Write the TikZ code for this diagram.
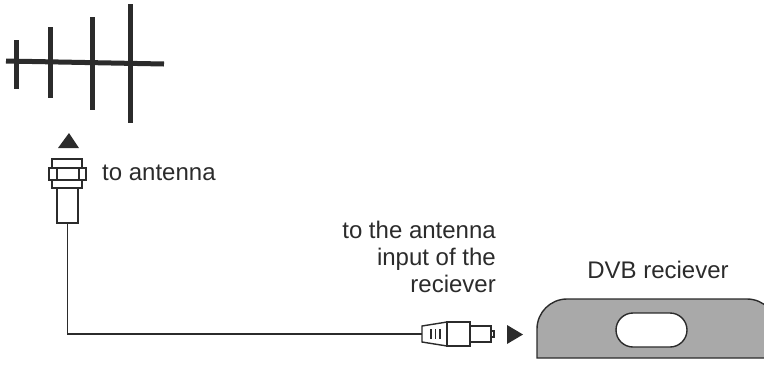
\documentclass[tikz,border=0pt]{standalone}
\usepackage{fontspec}
\setmainfont{Liberation Sans}
\usetikzlibrary{positioning,calc}
\definecolor{ink}{HTML}{2B2B2B}
\definecolor{case}{HTML}{A9A9A9}
\tikzset{
    rod/.style={ink, line width=5pt},
    part/.style={draw=ink, fill=white, line width=1.4pt},
    wire/.style={ink, line width=1.4pt},
    txt/.style={text=ink, inner sep=0pt, font=\fontsize{24}{27}\selectfont}
}

\begin{document}
\begin{tikzpicture}[x=1pt,y=-1pt,>=latex]
	\useasboundingbox (0,0) rectangle (764,365);

	% antenna
	\draw[rod] (6,61) -- (164,64);
	\foreach \x/\t/\b in {16/40/89, 50/27/98, 92/17/110, 130/4/123}
		\draw[rod] (\x,\t) -- (\x,\b);
	\fill[ink] (69,133) -- (79,148) -- (58,148) -- cycle;

	% socket
	\draw[part] (52,159) rectangle (82,168);
	\draw[part] (49,168) rectangle (86,180);
	\draw[wire] (57,168) -- (57,180) (79,168) -- (79,180);
	\draw[part] (52,180) rectangle (82,188);
	\node[part,minimum width=21pt,minimum height=35pt,inner sep=0pt] (jack) at (67.5,205.5) {};
	\node[txt,anchor=base west] (jacktext) at (102,180) {to antenna};

	% plug
	\coordinate (plug) at (422,334);
	\draw[part] (422,326) -- (447,322) -- (447,346) -- (422,342) -- cycle;
	\foreach \x in {431,435.5,440}
		\draw[wire] (\x,329) -- (\x,339);
	\draw[part] (447,322) rectangle (470,346);
	\draw[part] (470,326) rectangle (491,342);
	\draw[part] (491,331) rectangle (494,337);
	\fill[ink] (507,325) -- (523,334.5) -- (507,344) -- cycle;
	\node[txt,align=right,anchor=north east] (plugtext) at (496,221) {to the antenna\\input of the\\reciever};

	\draw[wire] (jack.south) |- (plug);

	% receiver
	\draw[part,fill=case] (537,358) -- (537,329) arc (180:270:30) -- (747,299) arc (270:360:30) -- (777,358) -- cycle;
	\draw[part,rounded corners=17pt] (616,313) rectangle (687,347);
	\node[txt,anchor=base] (dvb) at (658,278) {DVB reciever};

\end{tikzpicture}
\end{document}
